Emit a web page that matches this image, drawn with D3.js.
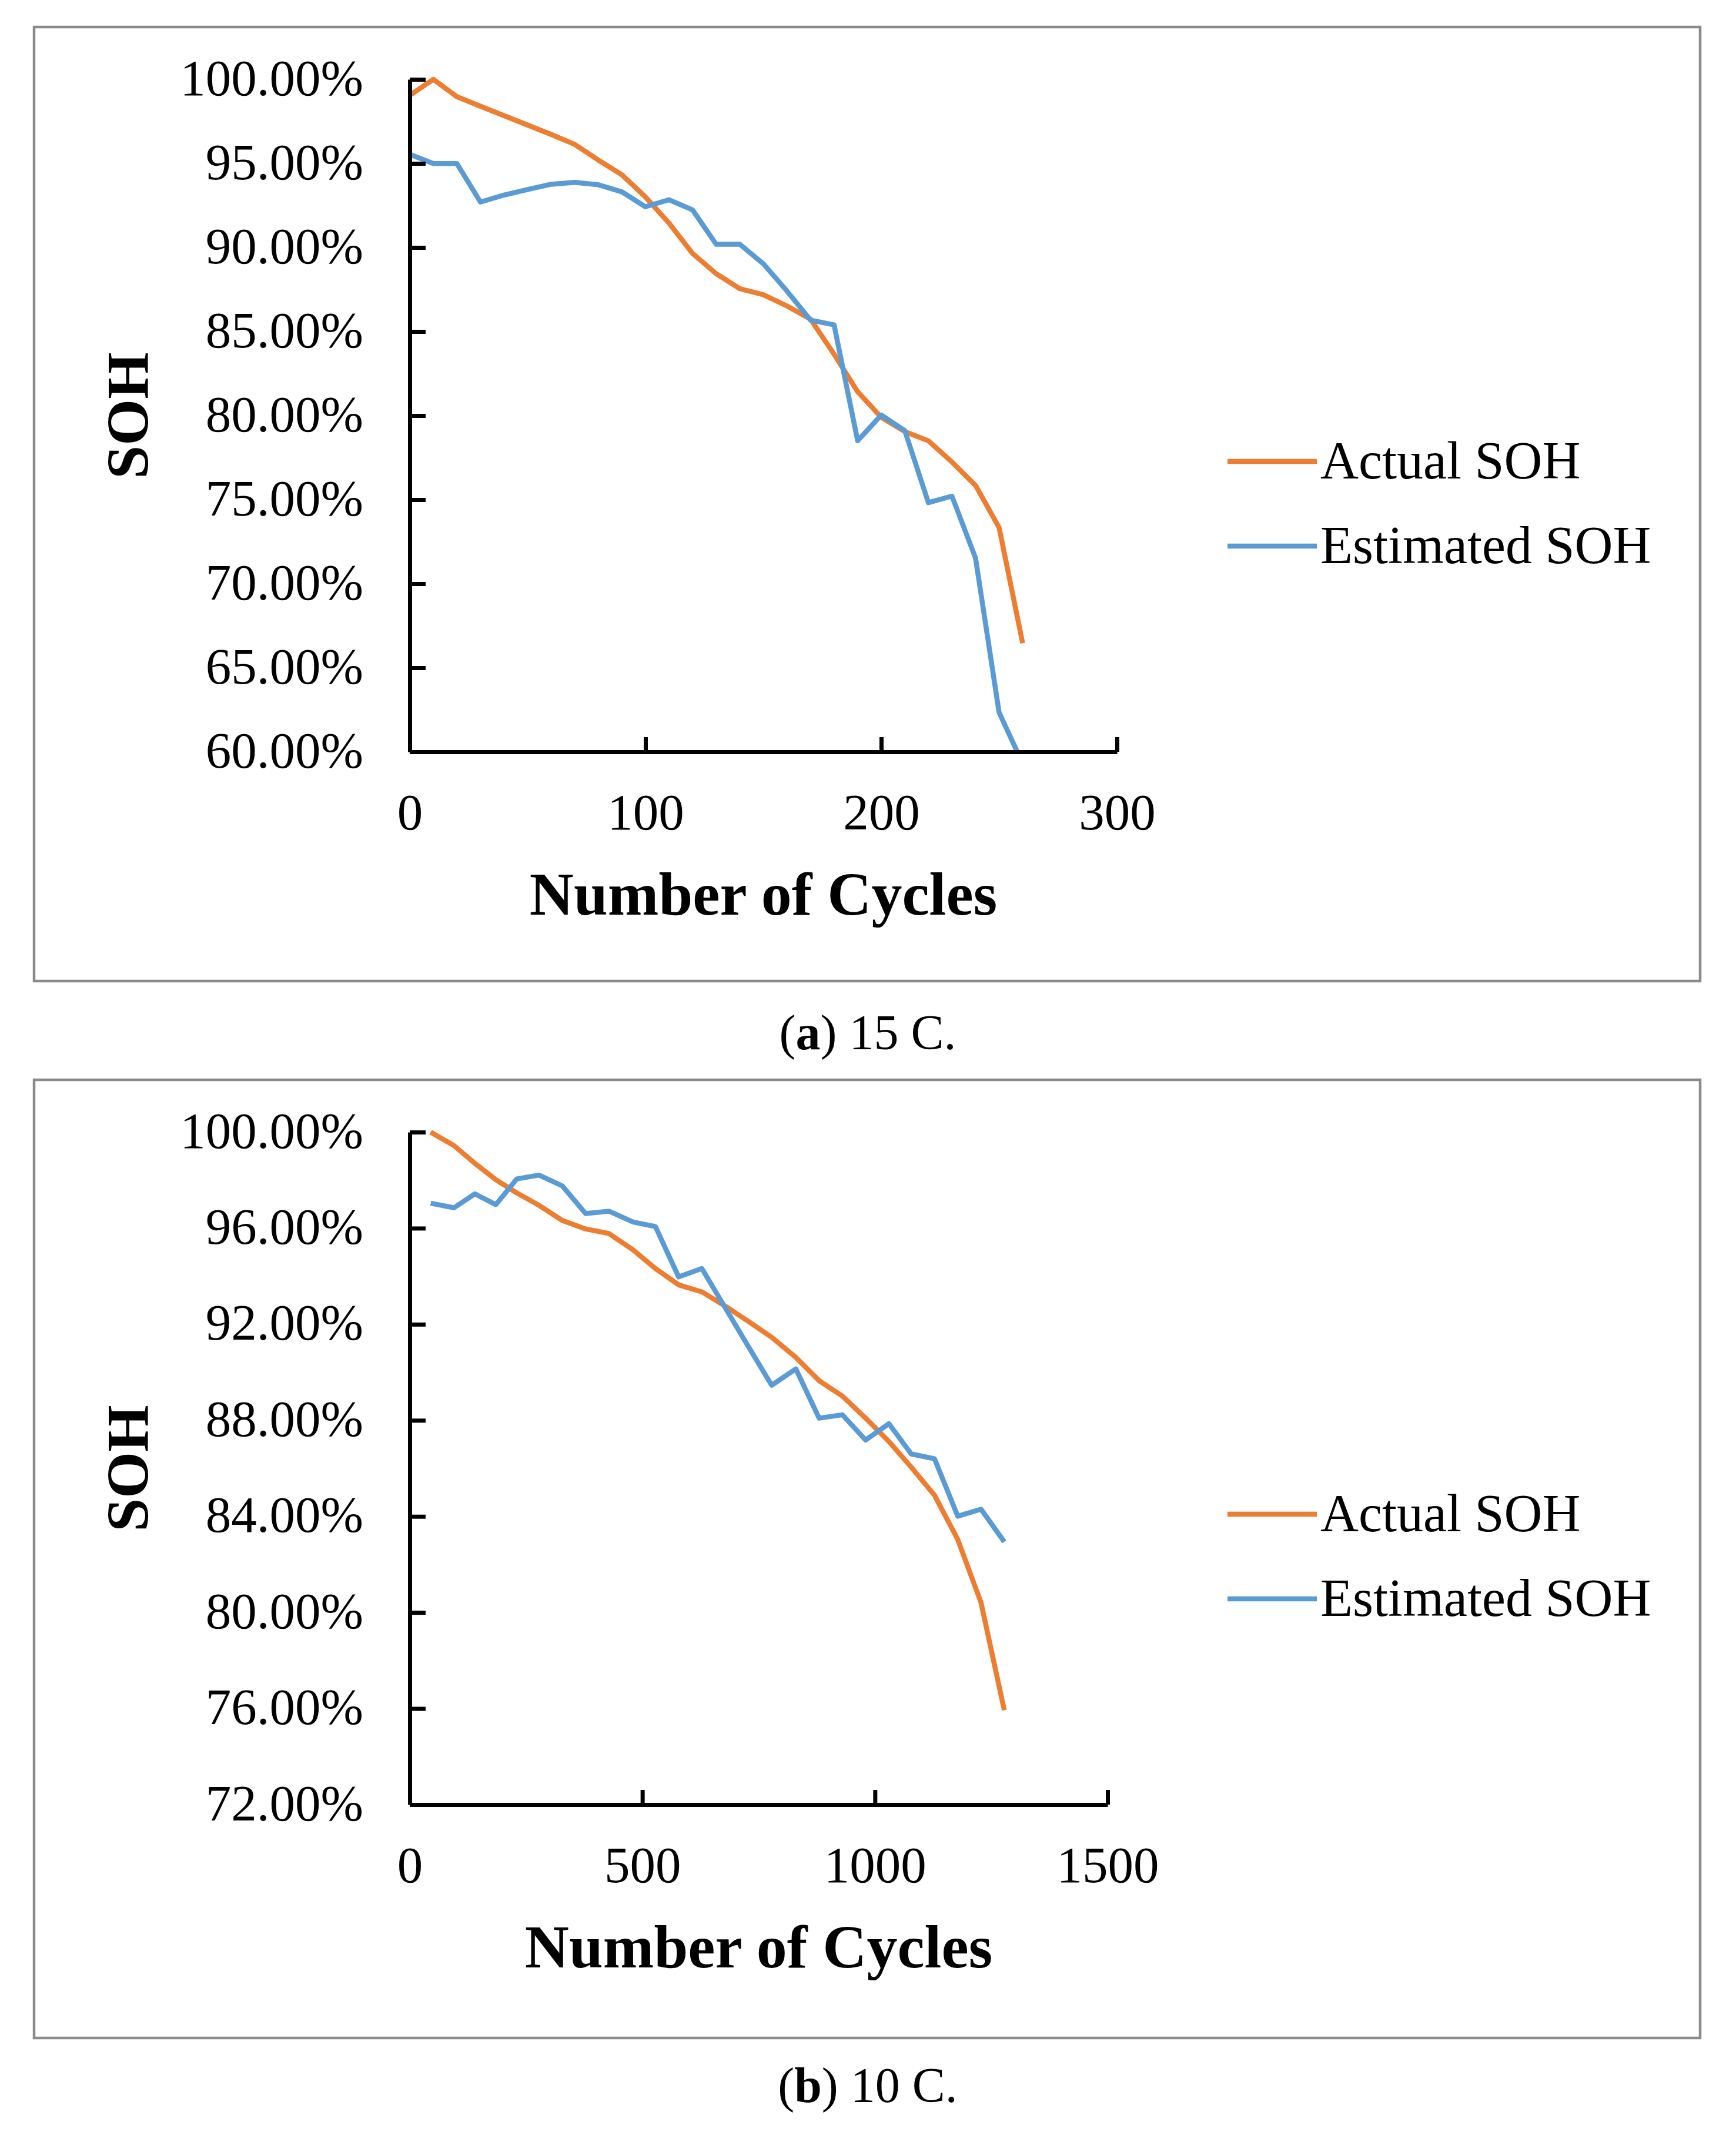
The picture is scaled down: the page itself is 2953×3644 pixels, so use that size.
<!DOCTYPE html>
<html>
<head>
<meta charset="utf-8">
<script src="https://cdn.jsdelivr.net/npm/d3@7"></script>
<style>
  html, body { margin: 0; padding: 0; background: #ffffff; }
  svg { display: block; }
  text { font-family: "Liberation Serif", "Times New Roman", serif; fill: #000; }
</style>
</head>
<body>
<svg id="chart" width="2953" height="3644"></svg>
<script>
// ---------- data ----------
const seriesNames = ["Actual SOH", "Estimated SOH"];
const seriesColors = ["#ED7D31", "#5B9BD5"];

// panel (a) 15 C
const cyclesA = [0, 10, 20, 30, 40, 50, 60, 70, 80, 90, 100, 110, 120, 130, 140, 150, 160, 170, 180, 190, 200, 210, 220, 230, 240, 250, 260];
const actualA = [99.05, 100.0, 98.97, 98.40, 97.84, 97.28, 96.72, 96.13, 95.20, 94.32, 93.00, 91.45, 89.64, 88.44, 87.55, 87.19, 86.52, 85.74, 83.65, 81.42, 79.90, 79.05, 78.50, 77.24, 75.85, 73.34, 66.46];
const estimatedA = [95.54, 94.99, 94.99, 92.70, 93.12, 93.45, 93.76, 93.87, 93.73, 93.31, 92.42, 92.84, 92.23, 90.19, 90.19, 89.03, 87.41, 85.68, 85.40, 78.50, 80.03, 79.11, 74.82, 75.21, 71.53, 62.34, 59.30];
const xTicksA = [0, 100, 200, 300];
const yTicksA = [60, 65, 70, 75, 80, 85, 90, 95, 100];

// panel (b) 10 C
const cyclesB = [45, 95, 140, 185, 230, 278, 328, 378, 428, 480, 528, 578, 628, 678, 728, 778, 830, 880, 930, 980, 1030, 1078, 1128, 1178, 1228, 1278];
const actualB = [100.0, 99.44, 98.70, 98.02, 97.47, 96.95, 96.32, 95.97, 95.78, 95.10, 94.32, 93.64, 93.35, 92.76, 92.12, 91.46, 90.62, 89.65, 89.01, 88.09, 87.12, 86.05, 84.88, 83.04, 80.41, 75.93];
const estimatedB = [97.04, 96.85, 97.43, 96.98, 98.05, 98.21, 97.76, 96.61, 96.71, 96.26, 96.07, 93.97, 94.32, 92.69, 91.07, 89.46, 90.14, 88.09, 88.23, 87.18, 87.86, 86.60, 86.40, 84.01, 84.30, 82.94];
const xTicksB = [0, 500, 1000, 1500];
const yTicksB = [72, 76, 80, 84, 88, 92, 96, 100];

const captions = [["a", " 15 C."], ["b", " 10 C."]];
const yTitle = "SOH";
const xTitle = "Number of Cycles";

// ---------- drawing ----------
const svg = d3.select("#chart");

function panel(cfg) {
  const g = svg.append("g").attr("transform", `translate(0,${cfg.dy})`);

  // outer frame
  g.append("rect")
    .attr("x", 58).attr("y", 46)
    .attr("width", 2834).attr("height", cfg.frameH)
    .attr("fill", "none").attr("stroke", "#8a8a8a").attr("stroke-width", 4.5);

  const x = d3.scaleLinear().domain(cfg.xDomain).range([697, cfg.xEnd]);
  const y = d3.scaleLinear().domain(cfg.yDomain).range([1279, 135]);

  const clipId = "clip" + cfg.id;
  g.append("clipPath").attr("id", clipId)
    .append("rect")
    .attr("x", 690).attr("y", 100)
    .attr("width", cfg.xEnd - 690 + 60).attr("height", 1279 - 100);

  // series
  const line = d3.line().x(d => x(d[0])).y(d => y(d[1]));
  const series = [cfg.actual, cfg.estimated];
  series.forEach((vals, i) => {
    const pts = cfg.cycles.map((c, k) => [c, vals[k]]);
    g.append("path")
      .datum(pts)
      .attr("d", line)
      .attr("fill", "none")
      .attr("stroke", seriesColors[i])
      .attr("stroke-width", 8.5)
      .attr("stroke-linejoin", "round")
      .attr("clip-path", `url(#${clipId})`);
  });

  // axes
  const yAxis = d3.axisLeft(y)
    .tickValues(cfg.yTicks)
    .tickSizeInner(-27).tickSizeOuter(0)
    .tickPadding(79)
    .tickFormat(d => d.toFixed(2) + "%");
  const xAxis = d3.axisBottom(x)
    .tickValues(cfg.xTicks)
    .tickSizeInner(-25).tickSizeOuter(0)
    .tickPadding(70)
    .tickFormat(d3.format("d"));

  const ya = g.append("g").attr("transform", "translate(697,0)").call(yAxis);
  const xa = g.append("g").attr("transform", "translate(0,1279)").call(xAxis);
  [ya, xa].forEach(a => {
    a.select(".domain").attr("stroke", "#000").attr("stroke-width", 7);
    a.selectAll(".tick line").attr("stroke", "#000").attr("stroke-width", 7);
    a.selectAll(".tick text")
      .attr("font-family", "Liberation Serif, serif")
      .attr("font-size", 87)
      .attr("fill", "#000");
  });
  ya.selectAll(".tick text").attr("dy", "0.30em");

  // axis titles
  g.append("text")
    .attr("transform", "translate(252,707) rotate(-90)")
    .attr("text-anchor", "middle")
    .attr("font-weight", "bold")
    .attr("font-size", 102)
    .text(yTitle);
  g.append("text")
    .attr("x", (697 + cfg.xEnd) / 2)
    .attr("y", 1556)
    .attr("text-anchor", "middle")
    .attr("font-weight", "bold")
    .attr("font-size", 104)
    .text(xTitle);

  // legend
  seriesNames.forEach((name, i) => {
    const ly = 785 + i * 144;
    g.append("line")
      .attr("x1", 2088).attr("x2", 2240)
      .attr("y1", ly).attr("y2", ly)
      .attr("stroke", seriesColors[i]).attr("stroke-width", 8.5);
    g.append("text")
      .attr("x", 2246).attr("y", ly + 29)
      .attr("font-size", 90)
      .text(name);
  });

  // caption
  const cap = g.append("text")
    .attr("x", 1476).attr("y", 1785)
    .attr("text-anchor", "middle")
    .attr("font-size", 84);
  cap.append("tspan").text("(");
  cap.append("tspan").attr("font-weight", "bold").text(cfg.caption[0]);
  cap.append("tspan").text(")" + cfg.caption[1]);
}

panel({
  id: "a", dy: 0, frameH: 1623,
  xDomain: [0, 300], xEnd: 1900, yDomain: [60, 100],
  cycles: cyclesA, actual: actualA, estimated: estimatedA,
  xTicks: xTicksA, yTicks: yTicksA, caption: captions[0]
});
panel({
  id: "b", dy: 1791, frameH: 1630,
  xDomain: [0, 1500], xEnd: 1884, yDomain: [72, 100],
  cycles: cyclesB, actual: actualB, estimated: estimatedB,
  xTicks: xTicksB, yTicks: yTicksB, caption: captions[1]
});
</script>
</body>
</html>
